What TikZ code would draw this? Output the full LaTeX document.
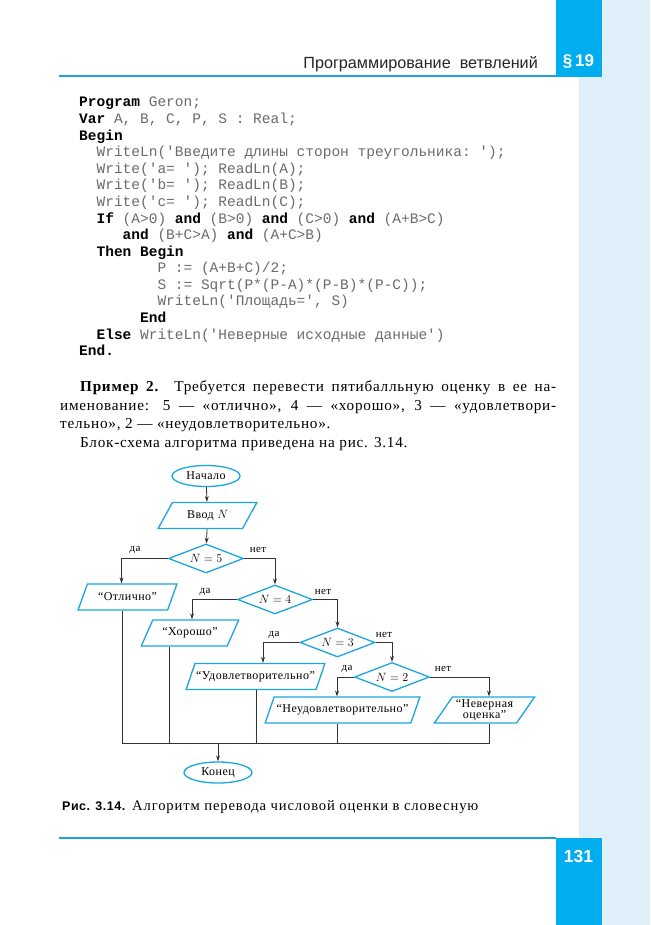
\documentclass[tikz,border=0pt]{standalone}
\usepackage{fontspec}
\setmainfont{Liberation Serif}
\setsansfont{Liberation Sans}
\setmonofont{Liberation Mono}
\newfontfamily\bodyfont[LetterSpace=5]{Liberation Serif}
\newfontfamily\chartfont[LetterSpace=4]{Liberation Serif}
\newfontfamily\capserif[LetterSpace=6]{Liberation Serif}
\newfontfamily\capsans[LetterSpace=4]{Liberation Sans}
\usetikzlibrary{shapes.geometric,arrows.meta}

\definecolor{tabblue}{HTML}{00AEEF}
\definecolor{stripblue}{HTML}{DFF0FB}
\definecolor{shapeblue}{HTML}{1BA6DF}
\definecolor{rulecol}{HTML}{1DA1DC}
\definecolor{codegray}{gray}{0.42}
\definecolor{linecol}{gray}{0.2}

% keyword in the Pascal listing
\newcommand\kw[1]{{\bfseries\color{black}#1}}
% justified line of body text
\newcommand\jline[2]{\makebox[#1][s]{#2}}

\tikzset{
  codeline/.style={anchor=base west, inner sep=0pt, text=codegray,
    font=\ttfamily\fontsize{14.5}{16}\selectfont},
  textline/.style={anchor=base west, inner sep=0pt,
    font=\bodyfont\fontsize{15.2}{18}\selectfont},
  chart/.style={font=\chartfont\fontsize{12}{13}\selectfont},
  term/.style={chart, ellipse, draw=shapeblue, line width=1.3pt,
    minimum width=68pt, minimum height=21pt, inner sep=0pt},
  io/.style={chart, trapezium, trapezium left angle=55, trapezium right angle=125,
    trapezium stretches=true, draw=shapeblue, line width=1.3pt,
    minimum height=26pt, inner sep=1pt, align=center},
  decision/.style={chart, diamond, aspect=2.6, draw=shapeblue, line width=1.3pt,
    minimum width=75pt, minimum height=29pt, inner sep=1pt},
  flow/.style={draw=linecol, line width=0.8pt},
  arrowflow/.style={flow, -{Stealth[length=6pt,width=4pt]}},
  branch/.style={font=\chartfont\fontsize{11}{12}\selectfont, inner sep=0pt},
}

\begin{document}
\begin{tikzpicture}[x=1pt,y=-1pt]
\useasboundingbox (0,0) rectangle (650,925);
\fill[white] (0,0) rectangle (650,925);

% page frame: side strip, tabs and rules
\fill[stripblue] (579,0) rectangle (650,925);
\fill[tabblue] (556,0) rectangle (602,77);
\fill[tabblue] (556,838) rectangle (602,925);
\draw[rulecol, line width=2pt] (59,76.5) -- (556,76.5);
\draw[rulecol, line width=2pt] (59,838) -- (556,838);
\node[anchor=base east, inner sep=0pt, text=black!85,
  font=\sffamily\fontsize{16.2}{18}\selectfont] (head) at (538,69)
  {Программирование\ \ ветвлений};
\node[anchor=base, inner sep=0pt, text=white,
  font=\sffamily\bfseries\fontsize{17}{20}\selectfont] (par) at (578.5,67) {§\,19};
\node[anchor=base, inner sep=0pt, text=white,
  font=\sffamily\bfseries\fontsize{17.5}{20}\selectfont] (pageno) at (578.5,862) {131};

% Pascal listing
\node[codeline] (l0)  at (79,107)    {\kw{Program} Geron;};
\node[codeline] (l1)  at (79,123.6)  {\kw{Var} A, B, C, P, S : Real;};
\node[codeline] (l2)  at (79,140.1)  {\kw{Begin}};
\node[codeline] (l3)  at (96.4,156.7) {WriteLn('Введите длины сторон треугольника: ');};
\node[codeline] (l4)  at (96.4,173.3) {Write('a= '); ReadLn(A);};
\node[codeline] (l5)  at (96.4,189.9) {Write('b= '); ReadLn(B);};
\node[codeline] (l6)  at (96.4,206.4) {Write('c= '); ReadLn(C);};
\node[codeline] (l7)  at (96.4,223)  {\kw{If} (A>0) \kw{and} (B>0) \kw{and} (C>0) \kw{and} (A+B>C)};
\node[codeline] (l8)  at (122.5,239.6) {\kw{and} (B+C>A) \kw{and} (A+C>B)};
\node[codeline] (l9)  at (96.4,256.1) {\kw{Then Begin}};
\node[codeline] (l10) at (157.3,272.7) {P := (A+B+C)/2;};
\node[codeline] (l11) at (157.3,289.3) {S := Sqrt(P*(P-A)*(P-B)*(P-C));};
\node[codeline] (l12) at (157.3,305.8) {WriteLn('Площадь=', S)};
\node[codeline] (l13) at (139.9,322.4) {\kw{End}};
\node[codeline] (l14) at (96.4,339)  {\kw{Else} WriteLn('Неверные исходные данные')};
\node[codeline] (l15) at (79,355.6)  {\kw{End.}};

% example paragraph
\node[textline] (p1) at (80,391)
  {\jline{476pt}{\textbf{Пример 2.} Требуется перевести пятибалльную оценку в ее на-}};
\node[textline] (p2) at (60,410)
  {\jline{496pt}{именование: 5 — «отлично», 4 — «хорошо», 3 — «удовлетвори-}};
\node[textline] (p3) at (60,428.5)
  {тельно», 2 — «неудовлетворительно».};
\node[textline] (p4) at (80,447)
  {Блок-схема алгоритма приведена на рис. 3.14.};

% flowchart
\node[term] (start) at (206,476) {Начало};
\node[io, minimum width=99pt] (input) at (207.5,515.5) {Ввод $N$};
\node[decision] (n5) at (206,558.5) {$N = 5$};
\node[io, minimum width=99pt] (otl) at (127.5,597) {“Отлично”};
\node[decision] (n4) at (275,599.5) {$N = 4$};
\node[io, minimum width=98pt] (xor) at (190,633) {“Хорошо”};
\node[decision] (n3) at (337.5,642.5) {$N = 3$};
\node[io, minimum width=139pt] (udo) at (255.5,676.5) {“Удовлетворительно”};
\node[decision] (n2) at (392,677) {$N = 2$};
\node[io, minimum width=155pt] (neud) at (342.5,710) {“Неудовлетворительно”};
\node[io, minimum width=101pt, font=\chartfont\fontsize{12}{11.5}\selectfont]
  (nev) at (484.5,710) {“Неверная\\оценка”};
\node[term] (finish) at (218,772.5) {Конец};

% branch columns and the collecting line
\coordinate (c1) at (121.5,0);
\coordinate (c2) at (192,0);
\coordinate (c3) at (263,0);
\coordinate (c4) at (337,0);
\coordinate (x2) at (169,0);
\coordinate (x3) at (256,0);
\coordinate (busL) at (122,743);
\coordinate (busR) at (489,743);

\draw[arrowflow] (start) -- (input);
\draw[arrowflow] (input) -- (n5);
\draw[arrowflow] (n5.west) -| (c1 |- otl.north);
\draw[arrowflow] (n5.east) -| (n4.north);
\draw[arrowflow] (n4.west) -| (c2 |- xor.north);
\draw[arrowflow] (n4.east) -| (n3.north);
\draw[arrowflow] (n3.west) -| (c3 |- udo.north);
\draw[arrowflow] (n3.east) -| (n2.north);
\draw[arrowflow] (n2.west) -| (c4 |- neud.north);
\draw[arrowflow] (n2.east) -| (busR |- nev.north);

\draw[flow] (busL |- otl.south) -- (busL) -- (busR) -- (busR |- nev.south);
\draw[flow] (x2 |- xor.south) -- (x2 |- busL);
\draw[flow] (x3 |- udo.south) -- (x3 |- busL);
\draw[flow] (c4 |- neud.south) -- (c4 |- busL);
\draw[arrowflow] (finish.north |- busL) -- (finish.north);

% branch labels
\node[branch] (d5) at (135,550) {да};
\node[branch] (t5) at (258,550) {нет};
\node[branch] (d4) at (205,592) {да};
\node[branch] (t4) at (323,592) {нет};
\node[branch] (d3) at (274,635) {да};
\node[branch] (t3) at (384,635) {нет};
\node[branch] (d2) at (347,669) {да};
\node[branch] (t2) at (443,669) {нет};

% figure caption
\node[anchor=base west, inner sep=0pt] (cap) at (62,810)
  {{\capsans\bfseries\fontsize{12.5}{14}\selectfont Рис. 3.14.}\hspace{7pt}%
   {\capserif\fontsize{14.6}{15}\selectfont Алгоритм перевода числовой оценки в словесную}};
\end{tikzpicture}
\end{document}
